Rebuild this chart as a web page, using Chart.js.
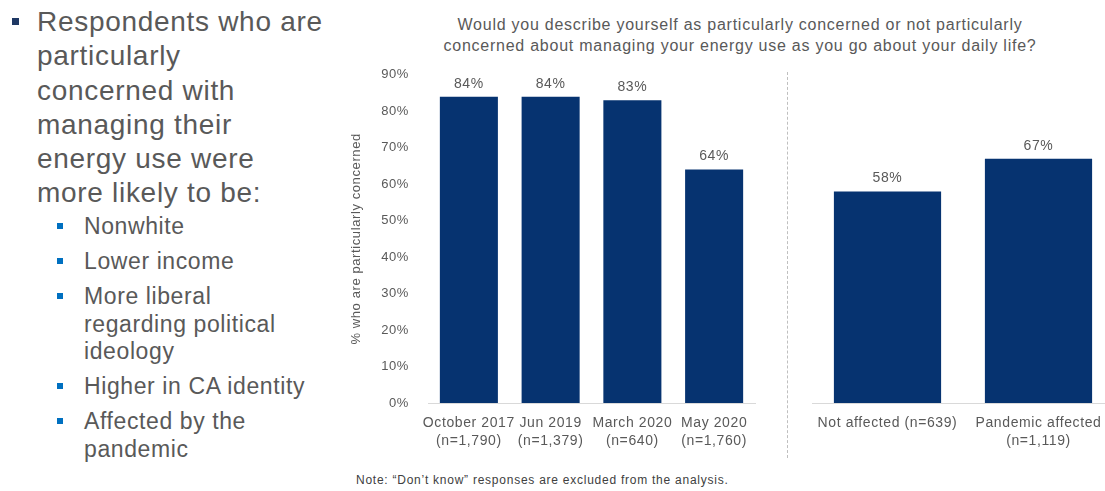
<!DOCTYPE html>
<html>
<head>
<meta charset="utf-8">
<script src="https://cdn.jsdelivr.net/npm/chart.js@4.4.1/dist/chart.umd.min.js"></script>
<style>
    html, body { margin: 0; padding: 0; background: #fff; overflow: hidden; }
    body { width: 1105px; height: 491px; position: relative; font-family: "Liberation Sans", Arial, sans-serif; color: #595959; }
    .abs { position: absolute; }
    #resumen { left: 37px; top: 5px; font-size: 28px; line-height: 34.3px; letter-spacing: 0.7px; }
    #resumen .bullet { position: absolute; left: -25px; top: 13px; width: 7px; height: 7px; background: #1f3864; }
    #items { left: 84px; top: 213px; font-size: 23px; line-height: 27.5px; letter-spacing: 0.6px; }
    #items div { position: relative; margin-bottom: 7.5px; }
    #items div::before { content: ""; position: absolute; left: -27px; top: 10px; width: 6px; height: 6px; background: #0070c0; }
    #pregunta { left: 420px; width: 640px; top: 14px; text-align: center; font-size: 16px; line-height: 21px; letter-spacing: 0.75px; }
    #nota { left: 356px; top: 473px; font-size: 12px; color: #404040; letter-spacing: 0.75px; }
    #separador { left: 787px; top: 72px; height: 386px; border-left: 1px dashed #bfbfbf; }
    canvas { position: absolute; }
</style>
</head>
<body>

<div class="abs" id="resumen">
    <span class="bullet"></span>
    Respondents who are<br>particularly<br>concerned with<br>managing their<br>energy use were<br>more likely to be:
</div>
<div class="abs" id="items">
    <div>Nonwhite</div>
    <div>Lower income</div>
    <div>More liberal<br>regarding political<br>ideology</div>
    <div>Higher in CA identity</div>
    <div>Affected by the<br>pandemic</div>
</div>

<div class="abs" id="pregunta">Would you describe yourself as particularly concerned or not particularly<br>concerned about managing your energy use as you go about your daily life?</div>
<div class="abs" id="separador"></div>
<div class="abs" id="nota">Note: “Don’t know” responses are excluded from the analysis.</div>

<canvas id="chart_tendencia" width="420" height="404" style="left:345px; top:56px;"></canvas>
<canvas id="chart_pandemia" width="314" height="404" style="left:800px; top:56px;"></canvas>

<script>
// encuestas por fecha
var etiquetas_tendencia = [
    ["October 2017", "(n=1,790)"],
    ["Jun 2019", "(n=1,379)"],
    ["March 2020", "(n=640)"],
    ["May 2020", "(n=1,760)"]
];
var valores_tendencia = [84, 84, 83, 64];

// mayo 2020 segun afectacion por la pandemia
var etiquetas_pandemia = ["Not affected (n=639)", ["Pandemic affected", "(n=1,119)"]];
var valores_pandemia = [58, 67];

var eje_min = 0;
var eje_max = 90;
var eje_paso = 10;

var gris = "#595959";
var azul = "#063370";
var fuente = "'Liberation Sans', Arial, sans-serif";

// letra un poco mas abierta en todo el canvas
var espaciado = {
    id: "espaciado",
    beforeDraw: function(chart) {
        chart.ctx.letterSpacing = "0.6px";
    }
};

// etiqueta de porcentaje encima de cada barra
var etiquetasBarras = {
    id: "etiquetasBarras",
    afterDatasetsDraw: function(chart) {
        var ctx = chart.ctx;
        ctx.save();
        ctx.font = "14px " + fuente;
        ctx.fillStyle = gris;
        ctx.textAlign = "center";
        ctx.textBaseline = "bottom";
        chart.data.datasets.forEach(function(dataset, i) {
            chart.getDatasetMeta(i).data.forEach(function(bar, j) {
                ctx.fillText(dataset.data[j] + "%", bar.x, bar.y - 6);
            });
        });
        ctx.restore();
    }
};

function opciones(anchoEjeY, conTitulo) {
    return {
        responsive: false,
        animation: false,
        layout: { padding: { top: 4, right: conTitulo ? 10 : 0, left: 0, bottom: 0 } },
        plugins: { legend: { display: false }, tooltip: { enabled: false } },
        datasets: { bar: { barPercentage: 0.71, categoryPercentage: 1 } },
        scales: {
            x: {
                grid: { display: false },
                border: { display: true, color: "#d9d9d9", width: 1 },
                ticks: {
                    color: gris,
                    font: { family: fuente, size: 14, lineHeight: 1.3 },
                    padding: 3,
                    autoSkip: false,
                    maxRotation: 0,
                    minRotation: 0
                },
                afterFit: function(scale) { scale.height = 57; }
            },
            y: {
                min: eje_min,
                max: eje_max,
                grid: { display: false },
                border: { display: false },
                ticks: {
                    stepSize: eje_paso,
                    color: conTitulo ? gris : "rgba(0,0,0,0)",
                    font: { family: fuente, size: 13 },
                    padding: 11,
                    callback: function(v) { return v + "%"; }
                },
                title: {
                    display: conTitulo,
                    text: "% who are particularly concerned",
                    color: gris,
                    font: { family: fuente, size: 13 }
                },
                afterFit: function(scale) { scale.width = anchoEjeY; }
            }
        }
    };
}

new Chart(document.getElementById("chart_tendencia").getContext("2d"), {
    type: "bar",
    data: {
        labels: etiquetas_tendencia,
        datasets: [{ data: valores_tendencia, backgroundColor: azul }]
    },
    options: opciones(83, true),
    plugins: [espaciado, etiquetasBarras]
});

new Chart(document.getElementById("chart_pandemia").getContext("2d"), {
    type: "bar",
    data: {
        labels: etiquetas_pandemia,
        datasets: [{ data: valores_pandemia, backgroundColor: azul }]
    },
    options: opciones(12, false),
    plugins: [espaciado, etiquetasBarras]
});
</script>
</body>
</html>
